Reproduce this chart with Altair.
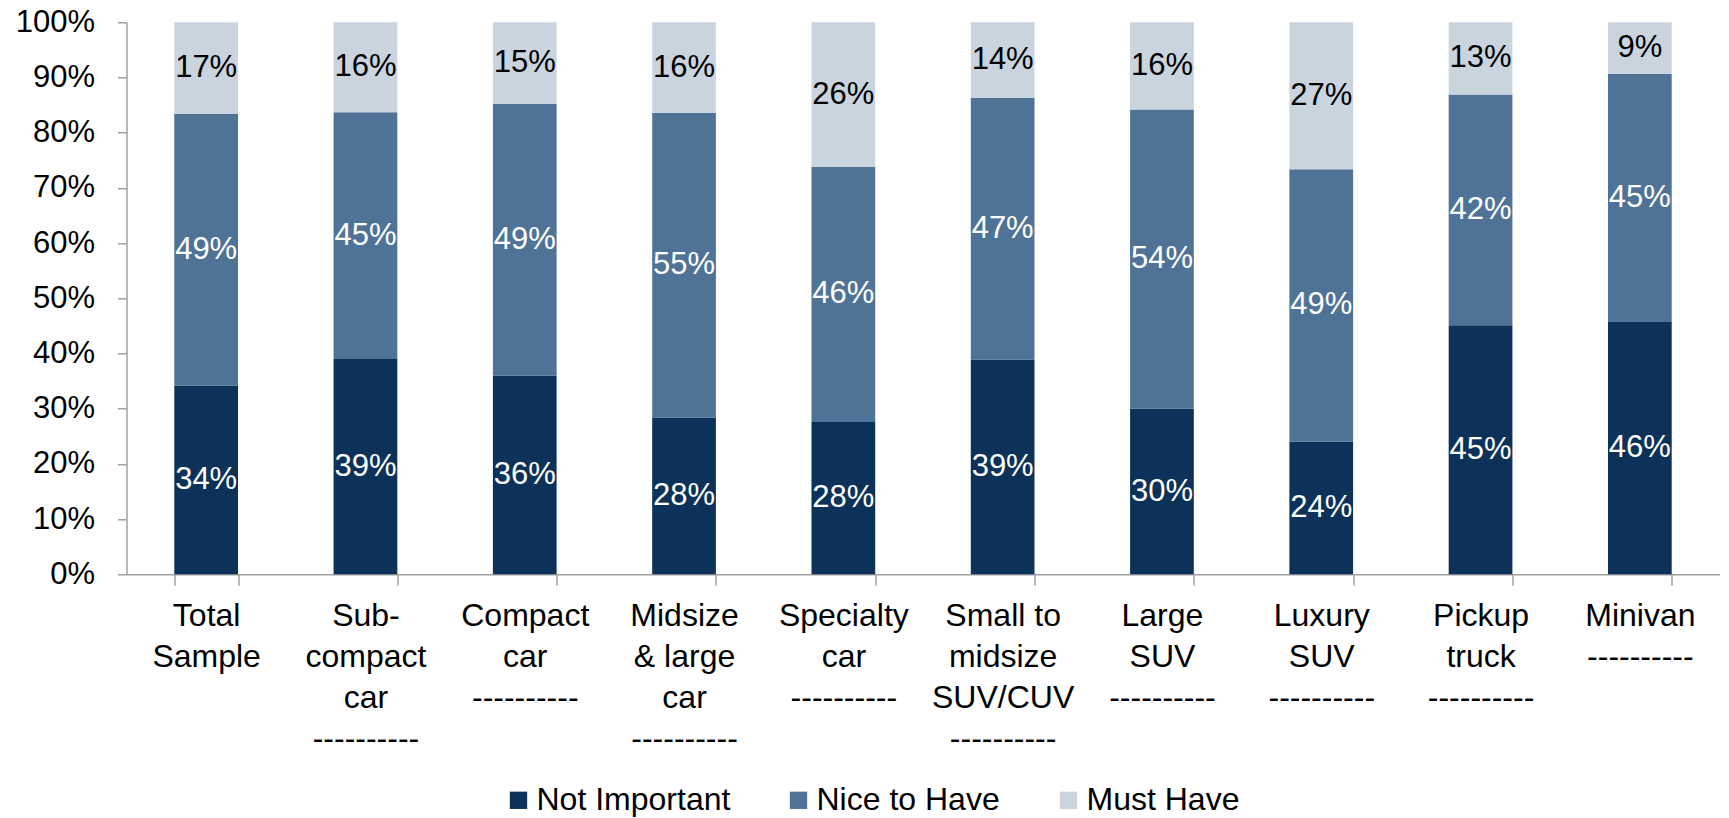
import altair as alt
import pandas as pd

categories = ["Total Sample", "Sub-compact car", "Compact car", "Midsize & large car",
              "Specialty car", "Small to midsize SUV/CUV", "Large SUV", "Luxury SUV",
              "Pickup truck", "Minivan"]
label_lines = [
    ["Total", "Sample"],
    ["Sub-", "compact", "car", "----------"],
    ["Compact", "car", "----------"],
    ["Midsize", "& large", "car", "----------"],
    ["Specialty", "car", "----------"],
    ["Small to", "midsize", "SUV/CUV", "----------"],
    ["Large", "SUV", "----------"],
    ["Luxury", "SUV", "----------"],
    ["Pickup", "truck", "----------"],
    ["Minivan", "----------"],
]
series = ["Not Important", "Nice to Have", "Must Have"]
not_important = [34.2, 39.0, 36.0, 28.4, 27.6, 38.9, 30.0, 24.0, 45.1, 45.7]
nice_to_have = [49.2, 44.7, 49.2, 55.2, 46.2, 47.4, 54.2, 49.4, 41.8, 45.0]
must_have = [16.6, 16.3, 14.8, 16.4, 26.2, 13.7, 15.8, 26.6, 13.1, 9.3]
colors = ["#0C3259", "#4F7396", "#C9D4DF"]
y_ticks = [0, 10, 20, 30, 40, 50, 60, 70, 80, 90, 100]

FONT = "Liberation Sans"
AXIS_GRAY = "#A0A0A0"

xlabs = ["|".join(lines) for lines in label_lines]
rows = []
for i, cat in enumerate(categories):
    for j, (s, vals) in enumerate(zip(series, [not_important, nice_to_have, must_have])):
        v = vals[i]
        rows.append({"category": cat, "xlab": xlabs[i], "series": s, "order": j,
                     "value": v, "txt": f"{round(v)}%"})
df = pd.DataFrame(rows)

x_enc = alt.X(
    "xlab:N", sort=xlabs, title=None,
    scale=alt.Scale(paddingInner=0.6, paddingOuter=0.3),
    axis=alt.Axis(labelAngle=0, labelExpr="split(datum.label, '|')",
                  tickBand="extent", tickSize=11, tickColor=AXIS_GRAY, tickWidth=1.5,
                  domainColor=AXIS_GRAY, domainWidth=1.5,
                  labelFont=FONT, labelFontSize=32, labelLineHeight=41,
                  labelColor="black", labelPadding=15, labelLimit=400,
                  labelBaseline="top"),
)

base = alt.Chart(df).transform_stack(
    stack="value", groupby=["xlab"], as_=["y0", "y1"],
    sort=[alt.SortField("order", order="ascending")],
).transform_calculate(mid="(datum.y0 + datum.y1) / 2")

bars = base.mark_bar(strokeWidth=0).encode(
    x=x_enc,
    y=alt.Y("y0:Q", title=None,
            scale=alt.Scale(domain=[0, 100], nice=False, zero=True),
            axis=alt.Axis(values=y_ticks, labelExpr="datum.value + '%'", grid=False,
                          tickSize=9, tickColor=AXIS_GRAY, tickWidth=1.5,
                          domainColor=AXIS_GRAY, domainWidth=1.5,
                          labelFont=FONT, labelFontSize=31, labelColor="black",
                          labelPadding=23)),
    y2="y1:Q",
    color=alt.Color("series:N", scale=alt.Scale(domain=series, range=colors),
                    sort=series,
                    legend=alt.Legend(title=None, orient="none", direction="horizontal",
                                      legendX=376, legendY=762, padding=0,
                                      symbolType="square", symbolSize=300,
                                      symbolStrokeWidth=0, labelFont=FONT,
                                      labelFontSize=32, labelColor="black",
                                      labelLimit=400, labelOffset=2,
                                      columnPadding=52)),
    order=alt.Order("order:Q"),
)

text = base.mark_text(font=FONT, fontSize=31, baseline="middle", align="center").encode(
    x=alt.X("xlab:N", sort=xlabs),
    y=alt.Y("mid:Q"),
    text="txt:N",
    color=alt.condition("datum.series == 'Must Have'", alt.value("black"), alt.value("white")),
)

chart = alt.layer(bars, text).properties(
    width=1593, height=552,
    autosize=alt.AutoSizeParams(type="none"),
    padding={"left": 126.5, "top": 22.3, "right": 9.5, "bottom": 243.7},
).configure_view(stroke=None)

chart.save("out.html", embed_options={"renderer": "svg", "actions": False})
